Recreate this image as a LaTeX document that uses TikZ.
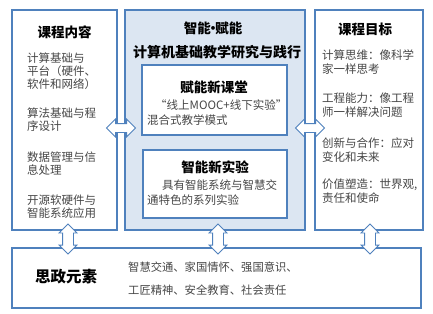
\documentclass[tikz,border=0pt]{standalone}
\usepackage{fontspec}
\setmainfont{Noto Sans CJK SC}
\usepackage{xcolor}
\usetikzlibrary{shapes.arrows, calc}
\definecolor{kblue}{RGB}{79,129,189}
\definecolor{kfill}{RGB}{220,230,242}
\definecolor{ktext}{RGB}{70,70,70}

\tikzset{
  box/.style={draw=kblue, line width=1.6pt, inner sep=0pt},
  head/.style={font=\fontsize{13.5}{16}\selectfont\bfseries, inner sep=0pt},
  body/.style={font=\fontsize{11.5}{13}\selectfont, text=ktext, align=left, anchor=base west, inner sep=0pt},
  blockarrow/.style={double arrow, draw=kblue, fill=white, line width=0.8pt, minimum width=0pt},
  harrow/.style={blockarrow, inner sep=4pt, double arrow head extend=4.5pt, minimum height=29pt},
  varrow/.style={blockarrow, rotate=90, inner sep=5pt, double arrow head extend=3.5pt, minimum height=30pt}
}

\begin{document}
\begin{tikzpicture}[x=1pt,y=-1pt]
  \useasboundingbox (0,0) rectangle (433,313);

  %outer boxes:
  \node[box, fill=white, minimum width=105, minimum height=220] (content) at (64.5,120) {};
  \node[box, fill=kfill, minimum width=180, minimum height=220] (reform) at (215,120) {};
  \node[box, fill=white, minimum width=108, minimum height=220] (goal) at (369,120) {};
  \node[box, fill=white, minimum width=409, minimum height=60] (ideo) at (216.5,278) {};
  %inner boxes
  \node[box, fill=white, minimum width=145, minimum height=70] (class) at (214.5,100) {};
  \node[box, fill=white, minimum width=144, minimum height=68] (lab) at (215,184) {};

  %titles
  \node[head] (contentT) at (64.5,32) {课程内容};
  \node[head] (reformT) at (213,28) {智能\kern-4.5pt·\kern-4.5pt赋能};
  \node[head, font=\fontsize{14}{16}\selectfont\bfseries] (reformS) at (217,52) {计算机基础教学研究与践行};
  \node[head] (goalT) at (365,29) {课程目标};
  \node[head] (classT) at (214,87) {赋能新课堂};
  \node[head] (labT) at (215,167) {智能新实验};
  \node[head, font=\fontsize{15.5}{18}\selectfont\bfseries] (ideoT) at (66,277) {思政元素};

  %left column (base = last line)
  \node[body] (c1) at (27,88.4) {计算基础与\\平台（硬件、\\软件和网络）};
  \node[body] (c2) at (27,130.4) {算法基础与程\\序设计};
  \node[body] (c3) at (27,174.4) {数据管理与信\\息处理};
  \node[body] (c4) at (27,217.4) {开源软硬件与\\智能系统应用};

  %right column
  \node[body, font=\fontsize{11.5}{14}\selectfont] (g1) at (322,73.4) {计算思维：像科学\\家一样思考};
  \node[body, font=\fontsize{11.5}{14}\selectfont] (g2) at (322,116.4) {工程能力：像工程\\师一样解决问题};
  \node[body, font=\fontsize{11.5}{14}\selectfont] (g3) at (322,161.4) {创新与合作：应对\\变化和未来};
  \node[body, font=\fontsize{11.5}{14}\selectfont] (g4) at (322,202.4) {价值塑造：世界观,\\责任和使命};

  %middle column
  \node[body, font=\fontsize{11.5}{15}\selectfont] (classB) at (147,124.4) {\hspace*{8pt}“线上MOOC+线下实验”\\混合式教学模式};
  \node[body, font=\fontsize{11.5}{15}\selectfont] (labB) at (147,204.4) {\hspace*{15pt}具有智能系统与智慧交\\通特色的系列实验};

  %bottom
  \node[body, font=\fontsize{11.3}{23}\selectfont] (ideoB) at (128,294.4) {智慧交通、家国情怀、强国意识、\\工匠精神、安全教育、社会责任};

  %block arrows
  \node[harrow] (ha1) at ($(content.east)!0.5!(reform.west)+(0,8)$) {};
  \node[harrow] (ha2) at ($(reform.east)!0.5!(goal.west)+(0,8)$) {};
  \node[varrow] (va1) at ($(content.south)!0.5!(content.south |- ideo.north)+(3.5,0)$) {};
  \node[varrow] (va2) at ($(reform.south)!0.5!(reform.south |- ideo.north)+(3,0)$) {};
  \node[varrow] (va3) at ($(goal.south)!0.5!(goal.south |- ideo.north)+(1,0)$) {};
\end{tikzpicture}
\end{document}
